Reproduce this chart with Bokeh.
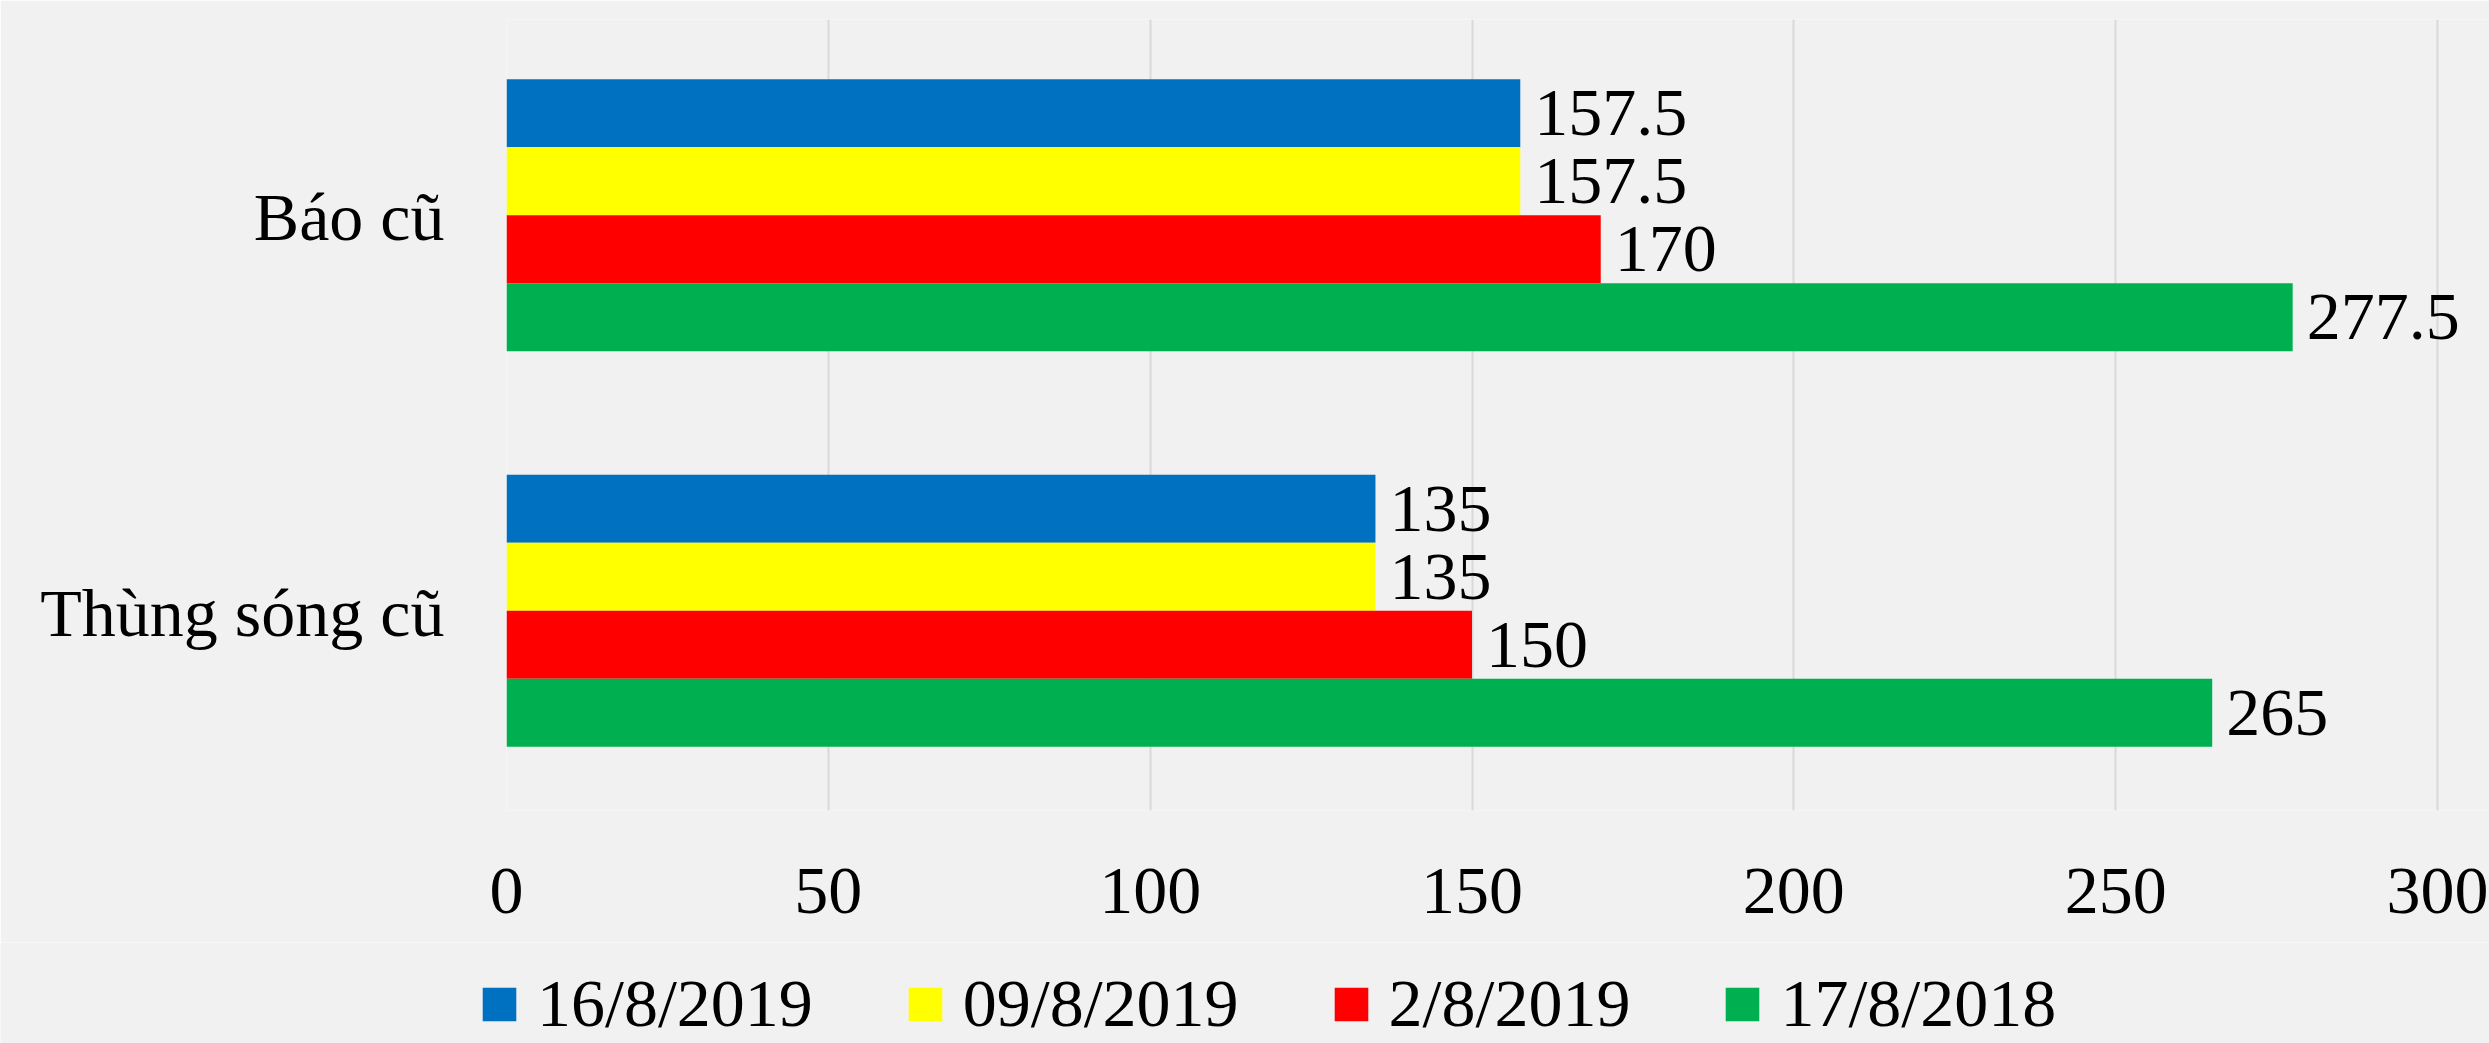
from bokeh.plotting import figure
from bokeh.models import ColumnDataSource, FactorRange, Range1d, Legend, LegendItem, LabelSet, FixedTicker
from bokeh.transform import dodge
from bokeh.layouts import column
from bokeh.embed import file_html
from bokeh.resources import INLINE

categories = ["Báo cũ", "Thùng sóng cũ"]
series_names = ["16/8/2019", "09/8/2019", "2/8/2019", "17/8/2018"]
series_colors = ["#0070C0", "#FFFF00", "#FF0000", "#00B050"]
values_16_8_2019 = [157.5, 135]
values_09_8_2019 = [157.5, 135]
values_2_8_2019 = [170, 150]
values_17_8_2018 = [277.5, 265]
x_ticks = [0, 50, 100, 150, 200, 250, 300]

all_values = [values_16_8_2019, values_09_8_2019, values_2_8_2019, values_17_8_2018]

FONT = "Liberation Serif"
FS = "68px"
BG = "#f2f1f1"

W, H = 2489, 1043
LEFT, TOP, FH = 506, 19, 791
HM = 942
FW = W - LEFT
x_end = 300 * FW / 1931.0

p = figure(
    width=W, height=HM,
    y_range=FactorRange(factors=list(reversed(categories)), range_padding=0),
    x_range=Range1d(0, x_end),
    output_backend="svg", toolbar_location=None,
    min_border_left=LEFT, min_border_right=0, min_border_top=TOP, min_border_bottom=HM - TOP - FH,
    background_fill_color=BG, border_fill_color=BG, outline_line_color=None,
)
p.frame_align = False

bar_h = 0.172
shift = 0.005
offsets = [1.5 * bar_h + shift, 0.5 * bar_h + shift, -0.5 * bar_h + shift, -1.5 * bar_h + shift]

renderers = []
for name, color, vals, off in zip(series_names, series_colors, all_values, offsets):
    src = ColumnDataSource(dict(
        cat=categories,
        val=vals,
        lab=[(str(int(v)) if float(v).is_integer() else str(v)) for v in vals],
    ))
    r = p.hbar(y=dodge("cat", off, range=p.y_range), right="val", left=0, height=bar_h,
               source=src, fill_color=color, line_color=None)
    renderers.append(r)
    labels = LabelSet(x="val", y=dodge("cat", off, range=p.y_range), text="lab", source=src,
                      x_offset=14, text_baseline="middle", text_align="left",
                      text_font=FONT, text_font_size=FS, text_color="black")
    p.add_layout(labels)

p.xaxis.ticker = FixedTicker(ticks=x_ticks)
for ax in [p.xaxis[0], p.yaxis[0]]:
    ax.axis_line_color = None
    ax.major_tick_line_color = None
    ax.minor_tick_line_color = None
    ax.major_label_text_font = FONT
    ax.major_label_text_font_size = FS
    ax.major_label_text_color = "black"
p.xaxis.major_label_standoff = 52
p.yaxis.major_label_standoff = 56

p.ygrid.grid_line_color = None
p.xgrid.grid_line_color = "#d9d9d9"
p.xgrid.grid_line_width = 2

# legend strip below the chart
lg = figure(
    width=W, height=H - HM,
    x_range=Range1d(0, 1), y_range=Range1d(0, 1),
    output_backend="svg", toolbar_location=None,
    min_border_left=0, min_border_right=0, min_border_top=0, min_border_bottom=0,
    background_fill_color=BG, border_fill_color=BG, outline_line_color=None,
)
lg.frame_align = False
lg.axis.visible = False
lg.grid.visible = False
legend_src = ColumnDataSource(dict(y=[-5.0], right=[0.0]))
dummy = []
for color in series_colors:
    dummy.append(lg.hbar(y="y", right="right", left=0, height=0.1, source=legend_src,
                         fill_color=color, line_color=None))

legend = Legend(
    items=[LegendItem(label=n, renderers=[r]) for n, r in zip(series_names, dummy)],
    orientation="horizontal",
    location=(478, 0),
    glyph_width=42, glyph_height=42, label_standoff=17, spacing=91,
    padding=0, margin=0,
    border_line_color=None, background_fill_alpha=0,
    label_text_font=FONT, label_text_font_size=FS, label_text_color="black",
    label_text_line_height=1.0,
)
lg.add_layout(legend, "center")

layout = column(p, lg, spacing=0)
open("out.html", "w").write(file_html(layout, INLINE))
